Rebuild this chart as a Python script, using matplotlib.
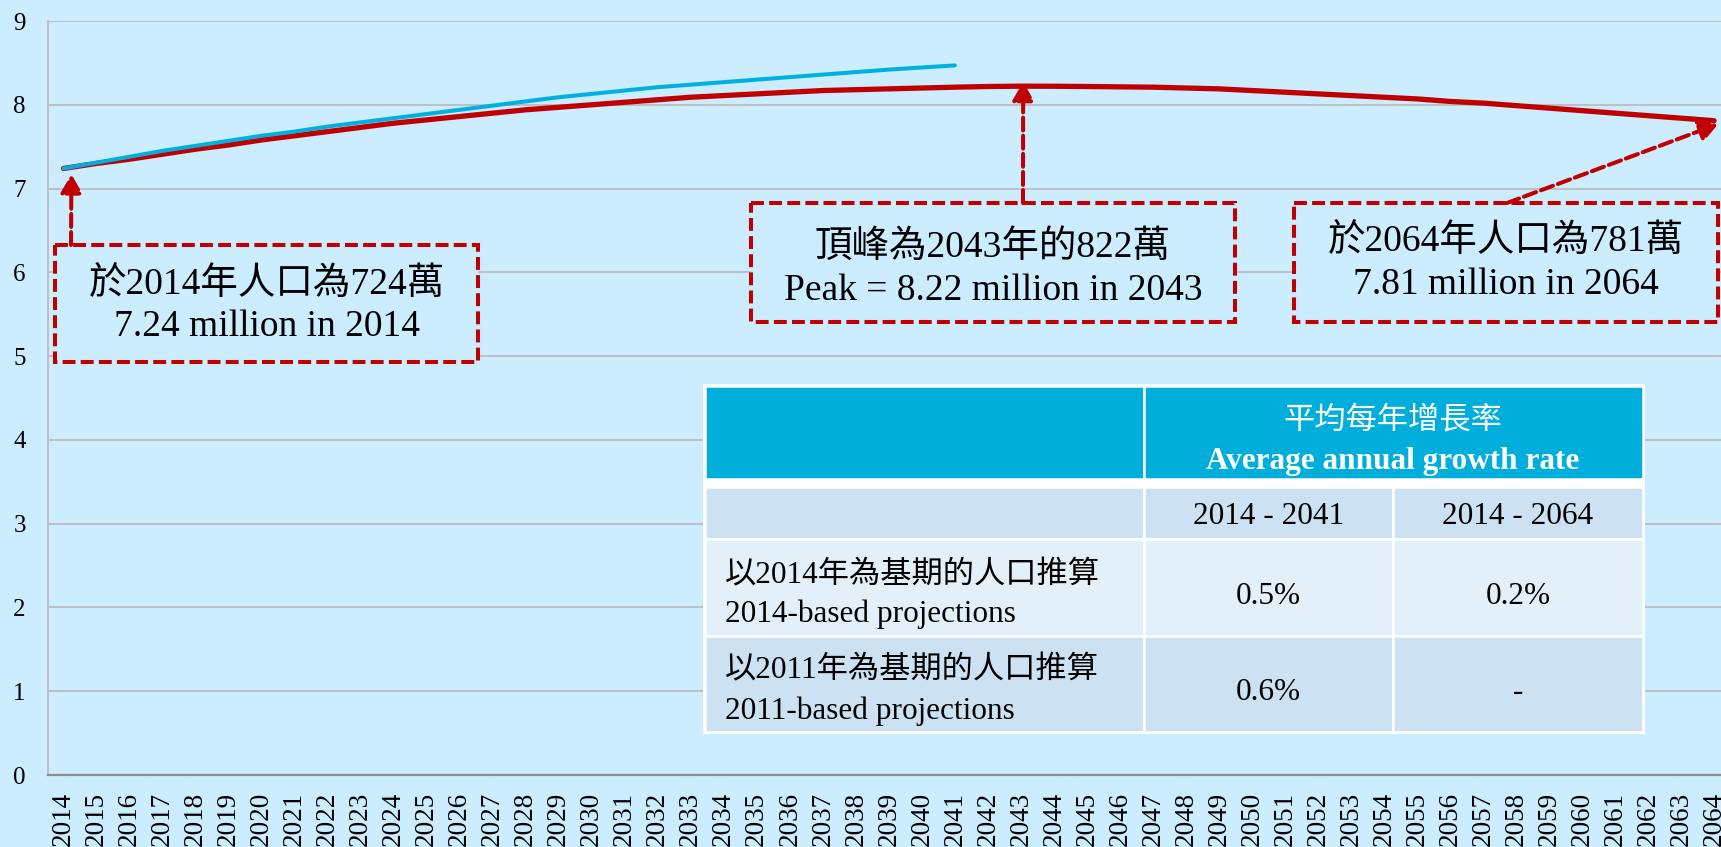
import matplotlib
matplotlib.use("Agg")
import matplotlib.pyplot as plt
from matplotlib.patches import Rectangle
import numpy as np

# ---------------- data ----------------
years = list(range(2014, 2065))
proj_2014_based = [7.24, 7.30, 7.35, 7.41, 7.47, 7.52, 7.58, 7.63, 7.68, 7.73,
                   7.78, 7.82, 7.86, 7.90, 7.94, 7.97, 8.00, 8.03, 8.06, 8.09,
                   8.11, 8.13, 8.15, 8.17, 8.18, 8.19, 8.20, 8.21, 8.218, 8.222,
                   8.221, 8.218, 8.214, 8.21, 8.20, 8.19, 8.17, 8.15, 8.13, 8.11,
                   8.09, 8.07, 8.04, 8.02, 7.99, 7.96, 7.93, 7.90, 7.87, 7.84, 7.81]
proj_2011_based = [7.24, 7.31, 7.38, 7.45, 7.51, 7.57, 7.63, 7.68, 7.74, 7.79,
                   7.84, 7.89, 7.94, 7.99, 8.04, 8.09, 8.13, 8.17, 8.21, 8.24,
                   8.27, 8.30, 8.33, 8.36, 8.39, 8.42, 8.445, 8.47]
y_ticks = [0, 1, 2, 3, 4, 5, 6, 7, 8, 9]

table_header_zh = "平均每年增長率"
table_header_en = "Average annual growth rate"
table_periods = ["2014 - 2041", "2014 - 2064"]
table_rows_zh = ["以2014年為基期的人口推算", "以2011年為基期的人口推算"]
table_rows_en = ["2014-based projections", "2011-based projections"]
table_rates = [["0.5%", "0.2%"], ["0.6%", "-"]]

note_start = ["於2014年人口為724萬", "7.24 million in 2014"]
note_peak = ["頂峰為2043年的822萬", "Peak = 8.22 million in 2043"]
note_end = ["於2064年人口為781萬", "7.81 million in 2064"]

# ---------------- style ----------------
plt.rcParams["font.family"] = ["Liberation Serif", "Noto Sans CJK TC"]
BG = "#CCECFF"
RED = "#C00000"
BLUE = "#00B0E0"
GRID = "#BFBFBF"
HEAD = "#00AEDB"
ROW_A = "#CCE2F2"
ROW_B = "#E3EFF9"

W, H = 1721, 847
fig = plt.figure(figsize=(W / 100, H / 100), dpi=100, facecolor=BG)
ax = fig.add_axes([48 / W, (H - 775) / H, (W - 48) / W, (775 - 21) / H])
ax.set_facecolor(BG)

x = np.arange(len(years))
ax.plot(x, proj_2014_based, color=RED, lw=3.8, solid_capstyle="round", zorder=3)
ax.plot(x[:len(proj_2011_based)], proj_2011_based, color=BLUE, lw=2.9,
        solid_capstyle="round", zorder=4)

ax.set_xlim(-0.47, 50.21)
ax.set_ylim(0, 9)
ax.set_yticks(y_ticks)
ax.set_yticklabels([str(v) for v in y_ticks], fontsize=18)
ax.set_xticks(x)
ax.set_xticklabels([str(yr) for yr in years], rotation=90, fontsize=19.5)
ax.tick_params(axis="y", length=0, pad=16)
ax.tick_params(axis="x", length=0, pad=12)
ax.yaxis.grid(True, color=GRID, lw=1.4)
ax.set_axisbelow(True)
for s in ["top", "right"]:
    ax.spines[s].set_visible(False)
ax.spines["left"].set_color(GRID)
ax.spines["left"].set_linewidth(1.4)
ax.spines["bottom"].set_color("#8C8C8C")
ax.spines["bottom"].set_linewidth(1.6)

# ---------------- overlay in pixel coordinates ----------------
oax = fig.add_axes([0, 0, 1, 1], zorder=5)
oax.set_xlim(0, W)
oax.set_ylim(H, 0)
oax.axis("off")
oax.patch.set_alpha(0)

DASH = (0, (3.2, 1.3))
DY = 4  # small vertical text offset


def note_box(x0, y0, x1, y1, lines, cx, ly):
    oax.add_patch(Rectangle((x0, y0), x1 - x0, y1 - y0, facecolor=BG,
                            edgecolor=RED, lw=2.9, linestyle=DASH, zorder=2))
    for t, yy in zip(lines, ly):
        oax.text(cx, yy + DY, t, fontsize=27, ha="center", va="center", zorder=3)


def note_arrow(start_px, tip_data):
    oax.annotate("", xy=tip_data, xycoords=ax.transData,
                 xytext=start_px, textcoords="data",
                 arrowprops=dict(arrowstyle="-|>,head_length=0.55,head_width=0.32",
                                 mutation_scale=20, lw=2.9, linestyle=DASH,
                                 color=RED, shrinkA=0, shrinkB=0), zorder=4)


peak_i = int(np.argmax(proj_2014_based))
note_box(55, 245, 478, 362, note_start, 267, [280, 323])
note_arrow((71, 245), (0.24, proj_2014_based[0] - 0.07))
note_box(751, 203, 1235, 322, note_peak, 993, [243, 287])
note_arrow((1023, 203), (peak_i + 0.07, proj_2014_based[peak_i] + 0.05))
note_box(1294, 203, 1718, 322, note_end, 1506, [237, 281])
note_arrow((1507, 203), (len(years) - 1 + 0.12, proj_2014_based[-1] - 0.04))

# ---------------- table ----------------
cols = [705, 1144, 1393, 1643]
oax.add_patch(Rectangle((703, 384), 942, 350, facecolor="white", edgecolor="none", zorder=2))


def cell(x0, x1, y0, y1, color):
    oax.add_patch(Rectangle((x0, y0), x1 - x0, y1 - y0, facecolor=color,
                            edgecolor="white", lw=1.8, zorder=3))


cell(cols[0], cols[1], 386, 479, HEAD)
cell(cols[1], cols[3], 386, 479, HEAD)
row_edges = [(487, 539, ROW_A), (539, 636, ROW_B), (636, 732, ROW_A)]
for y0, y1, c in row_edges:
    for i in range(3):
        cell(cols[i], cols[i + 1], y0, y1, c)

TFS = 22.5
oax.text(1393, 418 + DY, table_header_zh, color="white", fontsize=TFS, ha="center", va="center", zorder=4)
oax.text(1393, 457 + DY, table_header_en, color="white", fontsize=TFS, fontweight="bold",
         ha="center", va="center", zorder=4)
c2 = (cols[1] + cols[2]) / 2
c3 = (cols[2] + cols[3]) / 2
oax.text(c2, 513 + DY, table_periods[0], fontsize=TFS, ha="center", va="center", zorder=4)
oax.text(c3, 513 + DY, table_periods[1], fontsize=TFS, ha="center", va="center", zorder=4)
for r, (yz, ye, yv) in enumerate([(572, 610, 592), (667, 707, 688)]):
    oax.text(725, yz + DY, table_rows_zh[r], fontsize=TFS, ha="left", va="center", zorder=4)
    oax.text(725, ye + DY, table_rows_en[r], fontsize=TFS, ha="left", va="center", zorder=4)
    oax.text(c2, yv + DY, table_rates[r][0], fontsize=TFS, ha="center", va="center", zorder=4)
    oax.text(c3, yv + DY, table_rates[r][1], fontsize=TFS, ha="center", va="center", zorder=4)

fig.savefig("out.png", dpi=100, facecolor=BG)
